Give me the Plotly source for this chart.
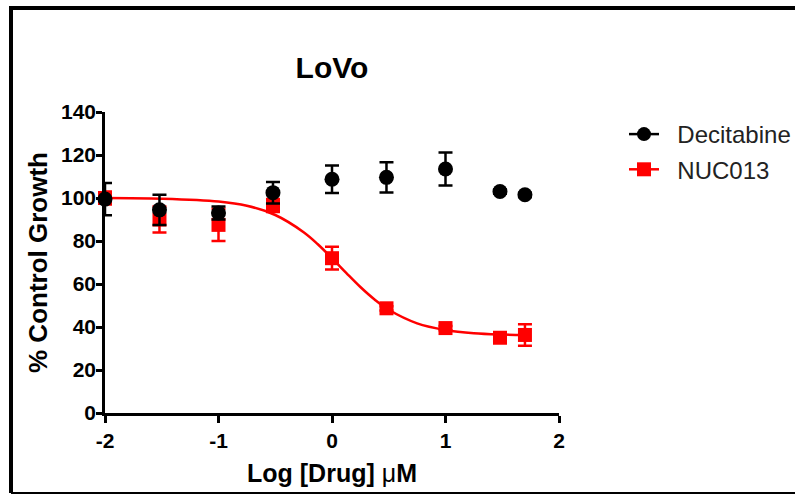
import plotly.graph_objects as go

# Data
log_dose = [-2, -1.52, -1, -0.52, 0, 0.48, 1, 1.48, 1.7]

decitabine_y = [99.5, 94.5, 93, 102.5, 108.7, 109.6, 113.5, 103, 101.5]
decitabine_err = [7.5, 7, 3, 5, 6.4, 7, 7.7, 1, 1]

nuc013_y = [100, 90, 87.5, 96.5, 72, 48.7, 39.5, 35, 36.3]
nuc013_err = [3, 6, 7.5, 3, 5.3, 1, 1, 1.5, 5]

# fitted curve for NUC013
curve_x = [-2, -1.5, -1, -0.75, -0.5, -0.25, -0.125, 0, 0.125, 0.25, 0.375, 0.5, 0.75, 1, 1.25, 1.5, 1.7]
curve_y = [100, 99.7, 98.4, 96.4, 92.1, 84.1, 78.5, 72, 65.2, 58.6, 52.8, 48, 41.7, 38.6, 37.1, 36.5, 36.3]

x_ticks = [-2, -1, 0, 1, 2]
y_ticks = [0, 20, 40, 60, 80, 100, 120, 140]

RED = "#FF0000"
BLACK = "#000000"
FONT = "Liberation Sans, Arial, sans-serif"

W, H = 795, 495
L, R, T, B = 105, 236, 112, 82

fig = go.Figure()

fig.add_trace(go.Scatter(x=curve_x, y=curve_y, mode="lines", line=dict(color=RED, width=2.5, shape="spline"),
                         showlegend=False, hoverinfo="skip", cliponaxis=False))
fig.add_trace(go.Scatter(x=log_dose, y=nuc013_y, mode="markers",
                         marker=dict(symbol="square", size=14, color=RED),
                         error_y=dict(type="data", array=nuc013_err, color=RED, thickness=2.5, width=7),
                         showlegend=False, cliponaxis=False))
fig.add_trace(go.Scatter(x=log_dose, y=decitabine_y, mode="markers",
                         marker=dict(symbol="circle", size=15, color=BLACK),
                         error_y=dict(type="data", array=decitabine_err, color=BLACK, thickness=2.5, width=7),
                         showlegend=False, cliponaxis=False))

# legend entries
fig.add_trace(go.Scatter(x=[None], y=[None], mode="lines+markers", name="\u00a0\u00a0Decitabine",
                         line=dict(color=BLACK, width=2.5), marker=dict(symbol="circle", size=14, color=BLACK),
                         legendgroup="a"))
fig.add_trace(go.Scatter(x=[None], y=[None], mode="lines+markers", name="\u00a0\u00a0NUC013",
                         line=dict(color=RED, width=2.5), marker=dict(symbol="square", size=14, color=RED),
                         legendgroup="b"))

def px2paper_x(px):
    return (px - L) / (W - L - R)

def px2paper_y(py):
    return (H - B - py) / (H - T - B)

# outer frame (left, top, bottom) in pixel coordinates
frame = [
    (11, 8, 11, 493, 4),
    (9, 8, 820, 8, 4),
    (11, 493, 820, 493, 2),
]
shapes = []
for x0, y0, x1, y1, w in frame:
    shapes.append(dict(type="line", xref="paper", yref="paper",
                       x0=px2paper_x(x0), y0=px2paper_y(y0), x1=px2paper_x(x1), y1=px2paper_y(y1),
                       line=dict(color=BLACK, width=w)))

fig.update_layout(
    width=W, height=H,
    margin=dict(l=L, r=R, t=T, b=B, autoexpand=False),
    paper_bgcolor="white", plot_bgcolor="white",
    font=dict(family=FONT, color=BLACK),
    title=dict(text="<b>LoVo</b>", x=0.5, xref="paper", xanchor="center",
               y=1 - 67 / H, yref="container", yanchor="middle",
               font=dict(size=30, family=FONT, color=BLACK)),
    showlegend=True,
    legend=dict(x=px2paper_x(624), y=px2paper_y(112), xanchor="left", yanchor="top",
                font=dict(size=24, family=FONT, color="#222222"),
                traceorder="grouped", tracegroupgap=1, bgcolor="rgba(0,0,0,0)"),
    shapes=shapes,
)

fig.update_xaxes(range=[-2, 2], tickmode="array", tickvals=x_ticks, ticktext=[str(v) for v in x_ticks],
                 showline=True, linecolor=BLACK, linewidth=2.5, ticks="outside", ticklen=7, tickwidth=2.5,
                 tickcolor=BLACK, showgrid=False, zeroline=False,
                 tickfont=dict(size=21, family=FONT, color=BLACK, weight="bold"),
                 title=dict(text="<b>Log [Drug] </b>μ<b>M</b>", font=dict(size=25, family=FONT, color=BLACK), standoff=14))
fig.update_yaxes(range=[0, 140], tickmode="array", tickvals=y_ticks, ticktext=[str(v) for v in y_ticks],
                 showline=True, linecolor=BLACK, linewidth=2.5, ticks="outside", ticklen=6, tickwidth=2.5,
                 tickcolor=BLACK, showgrid=False, zeroline=False, ticklabelstandoff=-4,
                 tickfont=dict(size=21, family=FONT, color=BLACK, weight="bold"),
                 title=dict(text="<b>% Control Growth</b>", font=dict(size=26, family=FONT, color=BLACK), standoff=6))

fig.write_html("out.html", config={"displayModeBar": False},
               post_script="document.body.style.margin='0';document.body.style.overflow='hidden';")
